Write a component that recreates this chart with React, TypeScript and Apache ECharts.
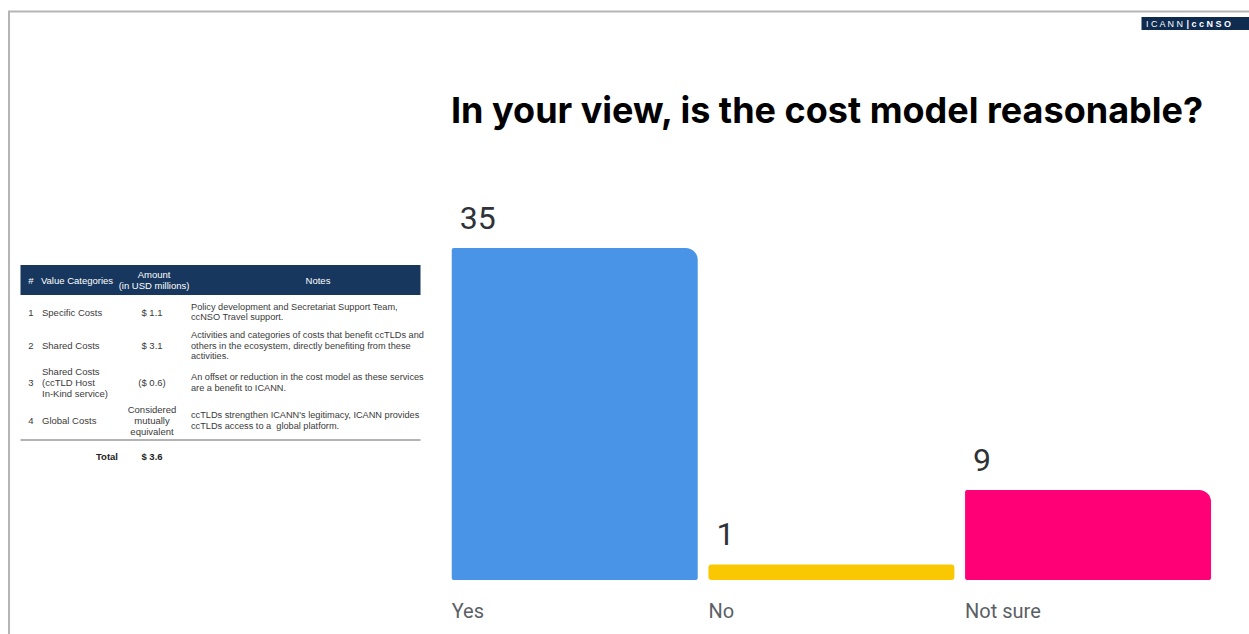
import React, { useEffect, useRef } from "react";
import * as echarts from "echarts";

const TITLE = "In your view, is the cost model reasonable?";
const CATEGORIES = ["Yes", "No", "Not sure"];
const VALUES = [35, 1, 9];
const COLORS = ["#4a94e7", "#f9c802", "#ff0077"];

const TABLE_HEAD = ["#", "Value Categories", "Amount\n(in USD millions)", "Notes"];
const ROW_NUMS = ["1", "2", "3", "4"];
const ROW_CATEGORIES = [
  "Specific Costs",
  "Shared Costs",
  "Shared Costs\n(ccTLD Host\nIn-Kind service)",
  "Global Costs",
];
const ROW_AMOUNTS = ["$ 1.1", "$ 3.1", "($ 0.6)", "Considered\nmutually\nequivalent"];
const ROW_NOTES = [
  "Policy development and Secretariat Support Team,\nccNSO Travel support.",
  "Activities and categories of costs that benefit ccTLDs and\nothers in the ecosystem, directly benefiting from these\nactivities.",
  "An offset or reduction in the cost model as these services\nare a benefit to ICANN.",
  "ccTLDs strengthen ICANN's legitimacy, ICANN provides\nccTLDs access to a  global platform.",
];
const TOTAL_LABEL = "Total";
const TOTAL_AMOUNT = "$ 3.6";

export default function App() {
  const ref = useRef<HTMLDivElement>(null);
  useEffect(() => {
    if (!ref.current) return;
    const chart = echarts.init(ref.current, null, { renderer: "svg" });

    const rowY = [312, 345.5, 382.5, 420.5];
    const tableFont = "Liberation Sans, Arial, sans-serif";
    const bodyColor = "#3a3a3a";
    const tableEls: any[] = [
      { type: "rect", shape: { x: 20.5, y: 265, width: 400, height: 30 }, style: { fill: "#17375e" } },
    ];
    const headX = [31, 77, 154, 318];
    TABLE_HEAD.forEach((t, i) => {
      tableEls.push({
        type: "text",
        style: {
          text: t, x: headX[i], y: 280, align: "center", verticalAlign: "middle",
          fill: "#ffffff", font: `9.5px ${tableFont}`, lineHeight: 11,
        },
      });
    });
    ROW_NUMS.forEach((n, i) => {
      const y = rowY[i];
      tableEls.push({ type: "text", style: { text: n, x: 31, y, align: "center", verticalAlign: "middle", fill: bodyColor, font: `9.5px ${tableFont}` } });
      tableEls.push({ type: "text", style: { text: ROW_CATEGORIES[i], x: 42, y, align: "left", verticalAlign: "middle", fill: bodyColor, font: `9.5px ${tableFont}`, lineHeight: 10.8 } });
      tableEls.push({ type: "text", style: { text: ROW_AMOUNTS[i], x: 152, y, align: "center", verticalAlign: "middle", fill: bodyColor, font: `9.5px ${tableFont}`, lineHeight: 10.8 } });
      tableEls.push({ type: "text", style: { text: ROW_NOTES[i], x: 191, y, align: "left", verticalAlign: "middle", fill: bodyColor, font: `9.2px ${tableFont}`, lineHeight: 10.8 } });
    });
    tableEls.push({ type: "line", shape: { x1: 20.5, y1: 440, x2: 420.5, y2: 440 }, style: { stroke: "#9a9a9a", lineWidth: 1.5 } });
    tableEls.push({ type: "text", style: { text: TOTAL_LABEL, x: 118, y: 456.5, align: "right", verticalAlign: "middle", fill: "#222", font: `bold 9.5px ${tableFont}` } });
    tableEls.push({ type: "text", style: { text: TOTAL_AMOUNT, x: 152, y: 456.5, align: "center", verticalAlign: "middle", fill: "#222", font: `bold 9.5px ${tableFont}` } });

    const FOOT = 6.2;
    const BAR_RATIO = 246 / 256.7;

    chart.setOption({
      animation: false,
      backgroundColor: "#ffffff",
      grid: { left: 446.4, right: 32.6, top: 247.9, bottom: 60.2, containLabel: false },
      xAxis: {
        type: "category",
        data: CATEGORIES,
        axisLine: { show: false },
        axisTick: { show: false },
        splitLine: { show: false },
        axisLabel: {
          margin: 27,
          formatter: (v: string) => `{a|${v}}`,
          rich: {
            a: { width: 246, align: "left", fontSize: 20, color: "#5b5f66", fontFamily: "Roboto, sans-serif" },
          },
        },
      },
      yAxis: { type: "value", min: 0, max: 35, show: false, splitLine: { show: false } },
      series: [
        {
          type: "custom",
          data: VALUES.map((v, i) => [i, v]),
          encode: { x: 0, y: 1 },
          clip: false,
          renderItem: (params: any, api: any) => {
            const idx = api.value(0);
            const v = api.value(1);
            const top = api.coord([idx, v]);
            const zero = api.coord([idx, 0]);
            const band = api.size([1, 0])[0];
            const w = band * BAR_RATIO;
            const x = top[0] - w / 2;
            const y = top[1];
            const h = zero[1] + FOOT - y;
            const r = h < 30 ? [3, 3, 3, 3] : [2, 12, 2, 2];
            return {
              type: "group",
              children: [
                { type: "rect", shape: { x, y, width: w, height: h, r }, style: { fill: COLORS[params.dataIndex] } },
                {
                  type: "text",
                  style: {
                    text: String(v), x: x + 8, y: y - 30, align: "left", verticalAlign: "middle",
                    fill: "#2f3338", font: "32px Roboto, sans-serif",
                  },
                },
              ],
            };
          },
        },
      ],
      graphic: [
        { type: "polyline", shape: { points: [[9, 634], [9, 11.5], [1249, 11.5]] }, style: { stroke: "#b5b5b5", lineWidth: 2, fill: null } },
        { type: "rect", shape: { x: 1141.5, y: 17, width: 108, height: 13 }, style: { fill: "#0f2b50" } },
        {
          type: "text",
          style: {
            text: "{a|I C A N N }{b|| c c N S O}",
            x: 1146, y: 23.5, align: "left", verticalAlign: "middle",
            rich: {
              a: { fill: "#ffffff", font: "9px Liberation Sans, sans-serif" },
              b: { fill: "#ffffff", font: "bold 9px Liberation Sans, sans-serif" },
            },
          },
        },
        {
          type: "text",
          style: {
            text: TITLE, x: 451, y: 110, align: "left", verticalAlign: "middle",
            fill: "#000000", font: "bold 36px Inter, sans-serif",
          },
        },
        { type: "group", children: tableEls },
      ],
    });
    return () => chart.dispose();
  }, []);
  return (
    <div
      ref={ref}
      style={{ position: "fixed", left: 0, top: 0, width: 1249, height: 634, background: "#fff" }}
    />
  );
}
